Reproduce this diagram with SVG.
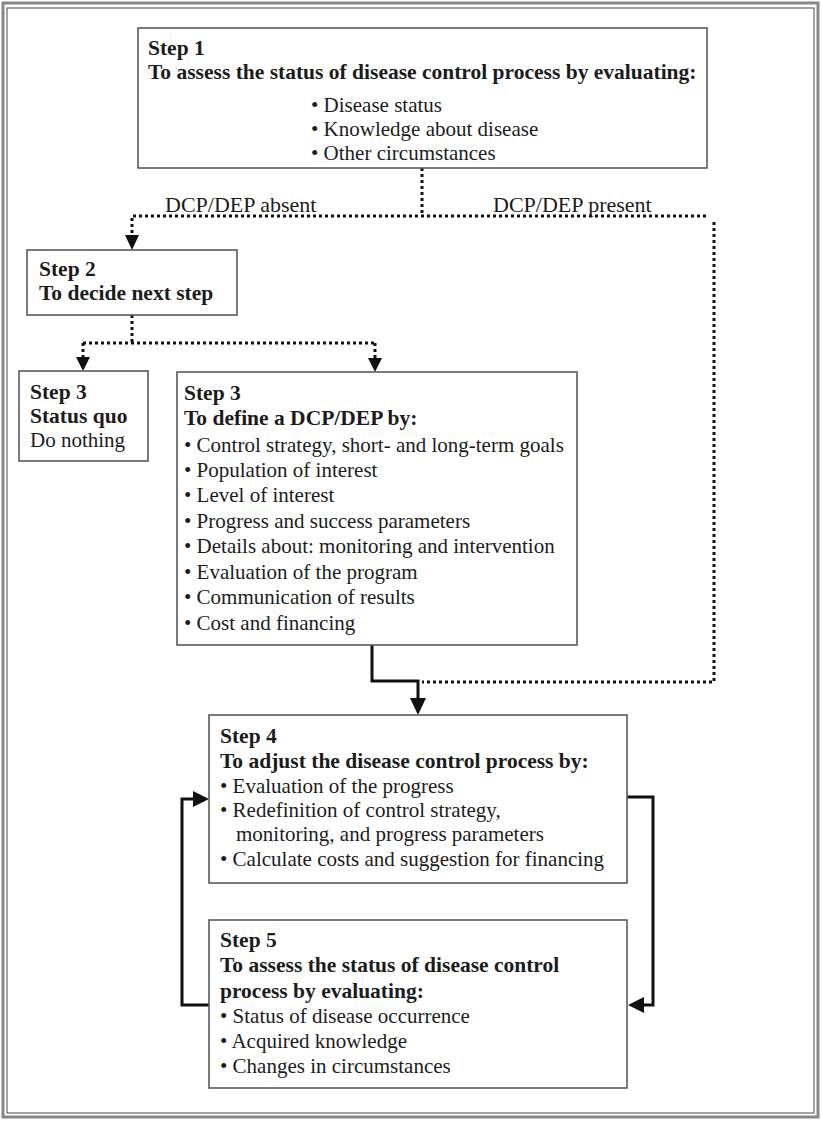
<svg xmlns="http://www.w3.org/2000/svg" width="822" height="1121" viewBox="0 0 822 1121">
<defs>
<style>
.box{fill:#fff;stroke:#5a5a5a;stroke-width:1.6}
.t{font-family:"Liberation Serif","Times New Roman",serif;font-size:21px;fill:#1c1c1c}
.b{font-weight:bold;font-size:21.5px}
.lbl{font-size:22px}
.dot{fill:none;stroke:#111;stroke-width:3;stroke-dasharray:3 3}
.sol{fill:none;stroke:#111;stroke-width:3}
.ah{fill:#111}
</style>
</defs>
<rect x="0" y="0" width="822" height="1121" fill="#fff"/>
<g id="frame">
<rect x="3" y="3" width="815" height="1114" fill="none" stroke="#888" stroke-width="3"/>
<rect x="7" y="8" width="807" height="1105" fill="none" stroke="#666" stroke-width="1.2"/>
</g>
<g id="connectors">
<path class="dot" d="M422,168 V216"/>
<path class="dot" d="M706,216 H132 V236"/>
<path class="ah" d="M125,235 L139,235 L132,250 Z"/>
<path class="dot" d="M714,222 V682 H422"/>
<path class="dot" d="M132,315 V343"/>
<path class="dot" d="M83,343 H375"/>
<path class="dot" d="M83,343 V357"/>
<path class="ah" d="M76,357 L90,357 L83,371 Z"/>
<path class="dot" d="M375,343 V358"/>
<path class="ah" d="M368,358 L382,358 L375,372 Z"/>
<path class="sol" d="M372,645 V681 H418 V700"/>
<path class="ah" d="M410,698 L426,698 L418,715 Z"/>
<path class="sol" d="M209,1005 H182 V799 H196"/>
<path class="ah" d="M193,791 L209,799 L193,807 Z"/>
<path class="sol" d="M627,797 H653 V1005 H641"/>
<path class="ah" d="M644,997 L628,1005 L644,1013 Z"/>
</g>
<text class="t lbl" x="165" y="212">DCP/DEP absent</text>
<text class="t lbl" x="493" y="212">DCP/DEP present</text>
<g id="step1">
<rect class="box" x="138" y="28" width="569" height="140"/>
<text class="t b" x="148" y="55">Step 1</text>
<text class="t b" x="148" y="79">To assess the status of disease control process by evaluating:</text>
<text class="t" x="311" y="112">• Disease status</text>
<text class="t" x="311" y="136">• Knowledge about disease</text>
<text class="t" x="311" y="160">• Other circumstances</text>
</g>
<g id="step2">
<rect class="box" x="27" y="250" width="210" height="65"/>
<text class="t b" x="39" y="276">Step 2</text>
<text class="t b" x="39" y="300">To decide next step</text>
</g>
<g id="step3a">
<rect class="box" x="19" y="371" width="129" height="90"/>
<text class="t b" x="30" y="399">Step 3</text>
<text class="t b" x="30" y="423">Status quo</text>
<text class="t" x="30" y="447">Do nothing</text>
</g>
<g id="step3b">
<rect class="box" x="177" y="372" width="400" height="273"/>
<text class="t b" x="184" y="400">Step 3</text>
<text class="t b" x="184" y="425">To define a DCP/DEP by:</text>
<text class="t" x="184" y="452">• Control strategy, short- and long-term goals</text>
<text class="t" x="184" y="477">• Population of interest</text>
<text class="t" x="184" y="502">• Level of interest</text>
<text class="t" x="184" y="527.5">• Progress and success parameters</text>
<text class="t" x="184" y="553">• Details about: monitoring and intervention</text>
<text class="t" x="184" y="578.5">• Evaluation of the program</text>
<text class="t" x="184" y="604">• Communication of results</text>
<text class="t" x="184" y="629.5">• Cost and financing</text>
</g>
<g id="step4">
<rect class="box" x="209" y="715" width="418" height="168"/>
<text class="t b" x="220" y="743">Step 4</text>
<text class="t b" x="220" y="768">To adjust the disease control process by:</text>
<text class="t" x="220" y="793">• Evaluation of the progress</text>
<text class="t" x="220" y="817">• Redefinition of control strategy,</text>
<text class="t" x="236" y="841">monitoring, and progress parameters</text>
<text class="t" x="220" y="866">• Calculate costs and suggestion for financing</text>
</g>
<g id="step5">
<rect class="box" x="209" y="920" width="418" height="168"/>
<text class="t b" x="220" y="947">Step 5</text>
<text class="t b" x="220" y="972">To assess the status of disease control</text>
<text class="t b" x="220" y="998">process by evaluating:</text>
<text class="t" x="220" y="1023">• Status of disease occurrence</text>
<text class="t" x="220" y="1048">• Acquired knowledge</text>
<text class="t" x="220" y="1073">• Changes in circumstances</text>
</g>
</svg>
